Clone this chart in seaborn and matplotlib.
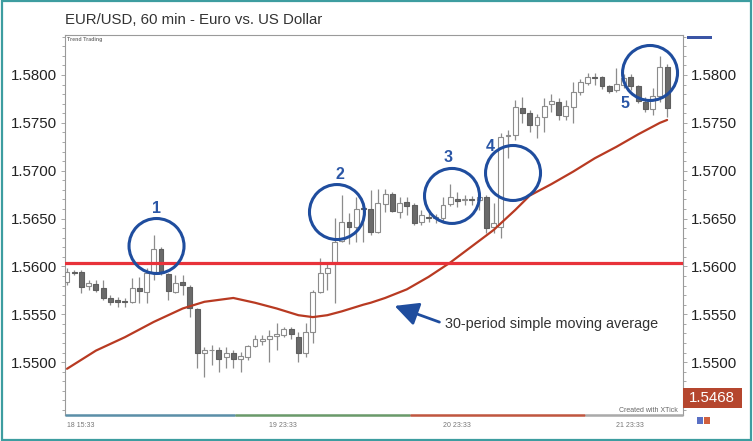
import numpy as np
import matplotlib
matplotlib.use("Agg")
import matplotlib.pyplot as plt
from matplotlib.patches import Ellipse, Rectangle
import seaborn as sns

# ---------------- data ----------------
opens = [1.5584, 1.5594, 1.5594, 1.5580, 1.5582, 1.5577, 1.5567, 1.5565, 1.5564, 1.5563,
         1.5577, 1.5573, 1.5594, 1.5618, 1.5592, 1.5573, 1.5584, 1.5578, 1.5555, 1.5510,
         1.5513, 1.5513, 1.5505, 1.5510, 1.5503, 1.5505, 1.5517, 1.5522, 1.5524, 1.5527,
         1.5528, 1.5535, 1.5526, 1.5510, 1.5531, 1.5573, 1.5593, 1.5605, 1.5627, 1.5646,
         1.5641, 1.5661, 1.5660, 1.5636, 1.5665, 1.5676, 1.5657, 1.5667, 1.5664, 1.5646,
         1.5652, 1.5651, 1.5651, 1.5665, 1.5670, 1.5669, 1.5670, 1.5669, 1.5672, 1.5641,
         1.5641, 1.5736, 1.5737, 1.5765, 1.5760, 1.5748, 1.5756, 1.5770, 1.5772, 1.5757,
         1.5767, 1.5782, 1.5792, 1.5798, 1.5798, 1.5788, 1.5784, 1.5790, 1.5798, 1.5788,
         1.5772, 1.5764, 1.5778, 1.5808]
highs = [1.5598, 1.5596, 1.5596, 1.5586, 1.5586, 1.5586, 1.5570, 1.5568, 1.5567, 1.5588,
         1.5589, 1.5598, 1.5633, 1.5620, 1.5593, 1.5591, 1.5591, 1.5581, 1.5557, 1.5516,
         1.5518, 1.5516, 1.5516, 1.5513, 1.5511, 1.5518, 1.5528, 1.5528, 1.5534, 1.5541,
         1.5537, 1.5537, 1.5531, 1.5541, 1.5575, 1.5609, 1.5605, 1.5651, 1.5675, 1.5656,
         1.5673, 1.5666, 1.5680, 1.5681, 1.5681, 1.5678, 1.5672, 1.5672, 1.5666, 1.5659,
         1.5656, 1.5655, 1.5672, 1.5686, 1.5678, 1.5675, 1.5674, 1.5677, 1.5675, 1.5666,
         1.5739, 1.5743, 1.5774, 1.5777, 1.5763, 1.5759, 1.5776, 1.5780, 1.5776, 1.5774,
         1.5793, 1.5796, 1.5802, 1.5802, 1.5799, 1.5790, 1.5807, 1.5801, 1.5801, 1.5790,
         1.5777, 1.5786, 1.5820, 1.5812]
lows = [1.5581, 1.5591, 1.5572, 1.5575, 1.5573, 1.5565, 1.5560, 1.5558, 1.5558, 1.5562,
        1.5562, 1.5562, 1.5586, 1.5591, 1.5565, 1.5572, 1.5570, 1.5547, 1.5494, 1.5484,
        1.5497, 1.5490, 1.5494, 1.5494, 1.5490, 1.5502, 1.5516, 1.5518, 1.5500, 1.5513,
        1.5526, 1.5524, 1.5500, 1.5505, 1.5520, 1.5572, 1.5575, 1.5562, 1.5625, 1.5623,
        1.5625, 1.5625, 1.5633, 1.5635, 1.5657, 1.5657, 1.5651, 1.5654, 1.5643, 1.5643,
        1.5646, 1.5645, 1.5646, 1.5663, 1.5662, 1.5664, 1.5664, 1.5659, 1.5635, 1.5635,
        1.5630, 1.5713, 1.5732, 1.5750, 1.5740, 1.5734, 1.5740, 1.5761, 1.5753, 1.5753,
        1.5750, 1.5779, 1.5790, 1.5790, 1.5785, 1.5781, 1.5782, 1.5786, 1.5784, 1.5771,
        1.5761, 1.5758, 1.5772, 1.5756]
closes = [1.5594, 1.5593, 1.5578, 1.5583, 1.5575, 1.5567, 1.5563, 1.5563, 1.5563, 1.5577,
          1.5574, 1.5593, 1.5618, 1.5593, 1.5574, 1.5583, 1.5581, 1.5557, 1.5510, 1.5513,
          1.5513, 1.5503, 1.5510, 1.5503, 1.5506, 1.5517, 1.5524, 1.5524, 1.5527, 1.5529,
          1.5535, 1.5529, 1.5510, 1.5531, 1.5573, 1.5593, 1.5598, 1.5625, 1.5646, 1.5641,
          1.5660, 1.5660, 1.5636, 1.5666, 1.5676, 1.5658, 1.5666, 1.5663, 1.5645, 1.5654,
          1.5651, 1.5652, 1.5664, 1.5672, 1.5668, 1.5670, 1.5669, 1.5672, 1.5640, 1.5645,
          1.5735, 1.5737, 1.5767, 1.5760, 1.5748, 1.5756, 1.5768, 1.5773, 1.5758, 1.5768,
          1.5782, 1.5793, 1.5798, 1.5797, 1.5788, 1.5783, 1.5791, 1.5797, 1.5788, 1.5773,
          1.5764, 1.5778, 1.5808, 1.5766]

ma_idx = [0, 4, 8, 12, 16, 19, 22, 23, 26, 29, 32, 34, 36, 38, 41, 42, 44, 47, 50,
          53, 56, 59, 62, 64, 67, 70, 73, 76, 79, 82, 83]
ma_vals = [1.5493, 1.5512, 1.5526, 1.5542, 1.5556, 1.5563, 1.5566, 1.5567, 1.5562,
           1.5556, 1.5549, 1.5547, 1.5549, 1.5553, 1.5560, 1.5562, 1.5567, 1.5576,
           1.5589, 1.5604, 1.5621, 1.5638, 1.5659, 1.5674, 1.5686, 1.5699, 1.5713,
           1.5725, 1.5738, 1.5750, 1.5753]

resistance = 1.56035
yticks = [1.5500, 1.5550, 1.5600, 1.5650, 1.5700, 1.5750, 1.5800]
xtick_pos = [0, 28, 52, 76]
xtick_labels = ["18 15:33", "19 23:33", "20 23:33", "21 23:33"]
last_price = "1.5468"

circle_x = [12.38, 37.34, 53.25, 61.69, 80.64]
circle_y = [1.56213, 1.56568, 1.56736, 1.56976, 1.58021]
label_x = [12.31, 37.76, 52.7, 58.5, 77.2]
label_y = [1.5661, 1.56965, 1.57133, 1.57258, 1.57707]
labels = ["1", "2", "3", "4", "5"]

# ---------------- figure ----------------
sns.set_style("white")
plt.rcParams['font.family'] = ['Liberation Sans', 'DejaVu Sans']

W, H = 753, 441
fig = plt.figure(figsize=(W / 100, H / 100), dpi=100)
ax = fig.add_axes([65 / W, 1 - 415 / H, (683 - 65) / W, (415 - 35) / H])

idx = np.arange(len(opens))
o = np.array(opens); c = np.array(closes)
bull = c >= o
bottoms = np.minimum(o, c)
heights = np.abs(c - o)
fills = np.where(bull, "white", "#6a6a6a")
edges = np.where(bull, "#8c8c8c", "#5e5e5e")

ax.vlines(idx, lows, highs, color="#8c8c8c", lw=0.9, zorder=2)
ax.bar(idx, heights, bottom=bottoms, width=0.68, color=fills, edgecolor=edges,
       linewidth=0.8, zorder=3)

sns.lineplot(x=ma_idx, y=ma_vals, ax=ax, color="#b83a22", lw=1.6, zorder=4)
ax.axhline(resistance, color="#e8323a", lw=2.3, zorder=5)

circ_w = 55 / 7.23
circ_h = 55 * 0.0001045
for cx, cy in zip(circle_x, circle_y):
    ax.add_patch(Ellipse((cx, cy), circ_w, circ_h, fill=False, ec="#1f4d9e",
                         lw=2.2, zorder=6))
for lx, ly, t in zip(label_x, label_y, labels):
    ax.text(lx, ly, t, color="#2a56a6", fontsize=11.5, fontweight="bold",
            ha="center", va="center", zorder=7)

ax.annotate("", xy=(44.95, 1.55597), xytext=(51.87, 1.55408),
            arrowprops=dict(arrowstyle="-|>,head_length=0.9,head_width=0.45",
                            color="#1f4d9e", lw=2, mutation_scale=16), zorder=7)
ax.text(52.28, 1.55398, "30-period simple moving average", fontsize=10.4,
        color="#333333", ha="left", va="center")

ax.set_xlim(-0.28, 85.2)
ax.set_ylim(1.54447, 1.58418)
ax.set_yticks(yticks)
ax.set_yticklabels([f"{v:.4f}" for v in yticks])
ax.yaxis.set_minor_locator(matplotlib.ticker.MultipleLocator(0.001))
ax.tick_params(axis="y", which="both", left=True, right=True, labelleft=True,
               labelright=True, direction="out", length=3, width=0.6,
               color="#999999", labelsize=10.8, labelcolor="#222222", pad=3)
ax.tick_params(axis="y", which="minor", length=2.5)
ax.set_xticks(xtick_pos)
ax.set_xticklabels(xtick_labels)
ax.tick_params(axis="x", direction="out", length=4, width=0.6, color="#999999",
               labelsize=5, labelcolor="#777777", pad=1)
for lab in ax.get_xticklabels():
    lab.set_ha("left")
for s in ax.spines.values():
    s.set_color("#9a9a9a")
    s.set_linewidth(0.8)
ax.set_xlabel(""); ax.set_ylabel("")

# coloured session bar on the bottom axis
yb = 1.54447
for x0, x1, col in [(-0.28, 23.2, "#5b8fa8"), (23.2, 47.4, "#6a9a6a"),
                    (47.4, 71.6, "#c0563f"), (71.6, 85.2, "#aaaaaa")]:
    ax.hlines(yb, x0, x1, color=col, lw=1.8, clip_on=False, zorder=8)

# texts and decorations in figure coords
fig.text(65 / W, 1 - 20 / H, "EUR/USD, 60 min - Euro vs. US Dollar", fontsize=10.8,
         color="#333333", ha="left", va="center")
fig.text(67 / W, 1 - 40 / H, "Trend Trading", fontsize=3.8, fontweight="bold",
         color="#777777", ha="left", va="center")
fig.text(678 / W, 1 - 411 / H, "Created with XTick", fontsize=5, color="#666666",
         ha="right", va="center")
fig.patches.append(Rectangle((683 / W, 1 - 408 / H), 59 / W, 20 / H,
                             transform=fig.transFigure, fc="#b5462e", ec="none"))
fig.text(712 / W, 1 - 398 / H, last_price, fontsize=10.8, color="white",
         ha="center", va="center")
fig.patches.append(Rectangle((687 / W, 1 - 39 / H), 25 / W, 3 / H,
                             transform=fig.transFigure, fc="#3b55a5", ec="none"))
fig.patches.append(Rectangle((697 / W, 1 - 424 / H), 6 / W, 7 / H,
                             transform=fig.transFigure, fc="#5a70c4", ec="none"))
fig.patches.append(Rectangle((704 / W, 1 - 424 / H), 6 / W, 7 / H,
                             transform=fig.transFigure, fc="#d0603e", ec="none"))
fig.patches.append(Rectangle((0.002, 0.003), 0.995, 0.994, transform=fig.transFigure,
                             fill=False, ec="#3d9da0", lw=1.6))

fig.savefig("out.png", dpi=100)
